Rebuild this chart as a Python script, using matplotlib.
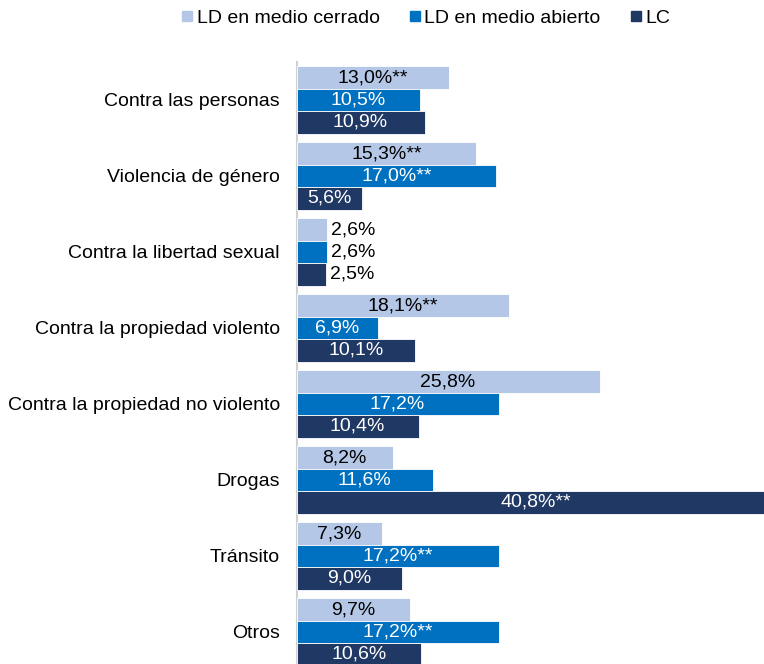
import matplotlib

matplotlib.use("Agg")

import matplotlib.pyplot as plt
import numpy as np
from matplotlib.lines import Line2D

CATEGORIES = [
    "Contra las personas",
    "Violencia de género",
    "Contra la libertad sexual",
    "Contra la propiedad violento",
    "Contra la propiedad no violento",
    "Drogas",
    "Tránsito",
    "Otros",
]
SERIES_NAMES = ["LD en medio cerrado", "LD en medio abierto", "LC"]
CERRADO = [13.0, 15.3, 2.6, 18.1, 25.8, 8.2, 7.3, 9.7]
ABIERTO = [10.5, 17.0, 2.6, 6.9, 17.2, 11.6, 17.2, 17.2]
LC = [10.9, 5.6, 2.5, 10.1, 10.4, 40.8, 9.0, 10.6]
# "**" = significant difference
CERRADO_SIG = [True, True, False, True, False, False, False, False]
ABIERTO_SIG = [False, True, False, False, False, False, True, True]
LC_SIG = [False, False, False, False, False, True, False, False]

COLORS = ["#B4C7E7", "#0070C0", "#203864"]
TEXT_COLORS = ["black", "white", "white"]
FONT = "Liberation Sans"
FS = 14

plt.rcParams["font.family"] = [FONT, "DejaVu Sans"]


def fmt(value: float, sig: bool) -> str:
    txt = f"{value:.1f}".replace(".", ",") + "%"
    return txt + "**" if sig else txt


fig = plt.figure(figsize=(7.64, 6.64), dpi=100)
ax = fig.add_axes([296.5 / 764, -6 / 664, 1 - 296.5 / 764, 608 / 664])

y = np.arange(len(CATEGORIES))
height = 0.295
series = [(CERRADO, CERRADO_SIG), (ABIERTO, ABIERTO_SIG), (LC, LC_SIG)]

for idx, (values, sigs) in enumerate(series):
    pos = y + (idx - 1) * height
    bars = ax.barh(
        pos,
        values,
        height,
        color=COLORS[idx],
        edgecolor="white",
        linewidth=0.6,
        zorder=3,
    )
    for bar, val, sig in zip(bars, values, sigs):
        cy = bar.get_y() + bar.get_height() / 2
        label = fmt(val, sig)
        if val < 4:
            ax.annotate(
                label,
                (val, cy),
                xytext=(3, 0),
                textcoords="offset points",
                ha="left",
                va="center",
                fontsize=FS,
                color="black",
            )
        else:
            ax.text(
                val / 2,
                cy,
                label,
                ha="center",
                va="center",
                fontsize=FS,
                color=TEXT_COLORS[idx],
                zorder=4,
            )

ax.set_xlim(0, 39.8)
ax.set_ylim(len(CATEGORIES) - 0.5, -0.5)
ax.set_yticks(y)
ax.set_yticklabels(CATEGORIES, fontsize=FS)
ax.tick_params(axis="y", length=0, pad=12)
ax.set_xticks([])
for side in ["top", "right", "bottom"]:
    ax.spines[side].set_visible(False)
ax.spines["left"].set_color("#D0D0D0")
ax.spines["left"].set_linewidth(1.5)

handles = [
    Line2D([], [], marker="s", linestyle="none", markersize=7, color=c)
    for c in COLORS
]
fig.legend(
    handles,
    SERIES_NAMES,
    loc="center",
    bbox_to_anchor=(0.557, 1 - 18 / 664),
    ncol=3,
    frameon=False,
    fontsize=FS,
    handlelength=0.6,
    handletextpad=0.2,
    columnspacing=1.5,
)

fig.savefig("out.png", dpi=100)
